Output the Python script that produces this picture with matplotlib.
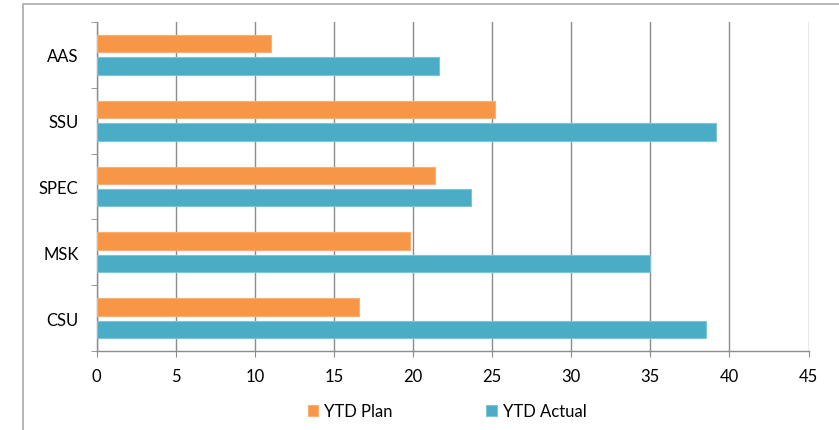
import numpy as np
import matplotlib
matplotlib.use('Agg')
import matplotlib.pyplot as plt
from matplotlib.patches import Rectangle

# values (bottom to top)
categories = ['CSU', 'MSK', 'SPEC', 'SSU', 'AAS']
ytd_plan = [16.6, 19.8, 21.4, 25.2, 11.05]
ytd_actual = [38.5, 35.0, 23.7, 39.15, 21.65]
x_ticks = [0, 5, 10, 15, 20, 25, 30, 35, 40, 45]

PLAN_C = '#F79646'
ACT_C = '#4BACC6'
GRID_C = '#8C8C8C'

plt.rcParams['font.family'] = ['Lato', 'DejaVu Sans']
plt.rcParams['font.size'] = 12

fig = plt.figure(figsize=(8.39, 4.31), dpi=100)
ax = fig.add_axes([96.5 / 839, 1 - 352.3 / 431, 712 / 839, 329.6 / 431])

# outer chart frame (runs off the right and bottom edges)
fig.patches.append(Rectangle((22.5 / 839, -0.1), 1.2, (431 - 5) / 431 + 0.1,
                             transform=fig.transFigure, fill=False,
                             edgecolor='#B0B0B0', linewidth=1.3))

y = np.arange(len(categories))
h = 0.265
gap = 0.076
ax.barh(y + (h + gap) / 2, ytd_plan, height=h, color=PLAN_C,
        edgecolor='#F9AE72', linewidth=0.8, label='YTD Plan', zorder=3)
ax.barh(y - (h + gap) / 2, ytd_actual, height=h, color=ACT_C,
        edgecolor='#7CC4D8', linewidth=0.8, label='YTD Actual', zorder=3)

ax.set_xlim(0, 45)
ax.set_ylim(-0.5, len(categories) - 0.5)
ax.set_xticks(x_ticks)
ax.set_xticklabels([str(t) for t in x_ticks])
ax.set_yticks(y)
ax.set_yticklabels(categories)
ax.set_yticks(np.arange(-0.5, len(categories)), minor=True)

ax.grid(axis='x', color=GRID_C, linewidth=1.0, zorder=0)
for s in ['top', 'right']:
    ax.spines[s].set_visible(False)
for s in ['left', 'bottom']:
    ax.spines[s].set_color(GRID_C)
    ax.spines[s].set_linewidth(1.0)
ax.tick_params(axis='y', which='major', length=0, pad=13)
ax.tick_params(axis='y', which='minor', length=4, color=GRID_C)
ax.tick_params(axis='x', length=4, color=GRID_C, pad=8)

leg = fig.legend(loc='center', bbox_to_anchor=(447 / 839, 1 - 412 / 431),
                 ncol=2, frameon=False, handlelength=0.65, handleheight=0.65,
                 handletextpad=0.35, columnspacing=5.6, fontsize=12)

fig.savefig('out.png', dpi=100)
